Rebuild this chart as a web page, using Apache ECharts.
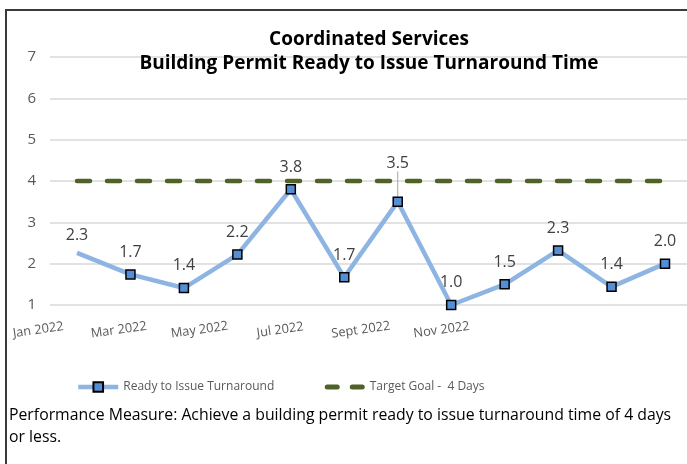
<!DOCTYPE html>
<html>
<head>
<meta charset="utf-8">
<script src="https://cdn.jsdelivr.net/npm/echarts@6/dist/echarts.min.js"></script>
<style>
  html, body { margin: 0; padding: 0; background: #fff; }
  #main { width: 687px; height: 464px; }
</style>
</head>
<body>
<div id="main"></div>
<script>
var myChart = echarts.init(document.getElementById('main'));

var months = ['Jan 2022', 'Feb 2022', 'Mar 2022', 'Apr 2022', 'May 2022', 'Jun 2022',
    'Jul 2022', 'Aug 2022', 'Sept 2022', 'Oct 2022', 'Nov 2022', 'Dec 2022'];
var turnaround = [2.26, 1.74, 1.41, 2.22, 3.8, 1.67, 3.5, 1.0, 1.5, 2.32, 1.44, 2.0];
var targetGoal = [4, 4, 4, 4, 4, 4, 4, 4, 4, 4, 4, 4];
var yTicks = [1, 7, 1]; // min, max, interval

var font = '"Open Sans", "Noto Sans", sans-serif';

// Jan has no marker, Jul label sits above the goal line with a leader
var turnData = turnaround.map(function (v, i) {
    if (i === 0) return { value: v, symbolSize: 0 };
    if (i === 6) return { value: v, labelLine: { show: true } };
    return v;
});

option = {
    backgroundColor: '#fff',
    textStyle: { fontFamily: font },
    title: {
        text: 'Coordinated Services\nBuilding Permit Ready to Issue Turnaround Time',
        left: 364,
        textAlign: 'center',
        top: 23,
        textStyle: {
            fontSize: 19,
            fontWeight: 'bold',
            color: '#000',
            lineHeight: 24,
            fontFamily: font
        }
    },
    graphic: [{
        type: 'polyline',
        shape: { points: [[6, 470], [6, 10], [700, 10]] },
        style: { fill: null, stroke: '#3a3a3a', lineWidth: 2 },
        silent: true
    }, {
        type: 'text',
        left: 9,
        top: 404,
        style: {
            text: 'Performance Measure: Achieve a building permit ready to issue turnaround time of 4 days\nor less.',
            font: '15.8px ' + font,
            fill: '#000',
            lineHeight: 22
        }
    }],
    legend: {
        left: 71,
        top: 376,
        itemWidth: 40,
        itemHeight: 12,
        itemGap: 48,
        textStyle: { fontSize: 12, color: '#595959', fontFamily: font },
        data: [{
            name: 'Ready to Issue Turnaround',
            lineStyle: { width: 4.5 }
        }, {
            name: 'Target Goal -  4 Days',
            itemStyle: { opacity: 0 },
            lineStyle: { type: [10, 15], width: 5, cap: 'round', dashOffset: 22.5 }
        }]
    },
    grid: [{
        // data area: category centres from Jan to Dec
        left: 77, width: 588, top: 57, bottom: 159
    }, {
        // month labels
        left: 18, width: 484, top: 57, bottom: 159
    }, {
        // value axis + gridlines
        left: 50, right: 0, top: 57, bottom: 159
    }],
    xAxis: [{
        type: 'category',
        data: months,
        boundaryGap: false,
        axisLine: { show: false },
        axisTick: { show: false },
        axisLabel: { show: false }
    }, {
        type: 'category',
        gridIndex: 1,
        data: months,
        boundaryGap: true,
        axisLine: { show: false },
        axisTick: { show: false },
        axisLabel: {
            interval: 1,
            rotate: 8,
            align: 'center',
            verticalAlign: 'middle',
            margin: 25,
            fontSize: 12.8,
            color: '#595959',
            fontFamily: font
        }
    }, {
        type: 'category',
        gridIndex: 2,
        data: months,
        show: false
    }],
    yAxis: [{
        type: 'value',
        min: yTicks[0],
        max: yTicks[1],
        show: false,
        splitLine: { show: false }
    }, {
        type: 'value',
        gridIndex: 1,
        min: yTicks[0],
        max: yTicks[1],
        show: false,
        splitLine: { show: false }
    }, {
        type: 'value',
        gridIndex: 2,
        min: yTicks[0],
        max: yTicks[1],
        interval: yTicks[2],
        axisLine: { show: false },
        axisTick: { show: false },
        axisLabel: { fontSize: 15, color: '#595959', margin: 14, fontFamily: font },
        splitLine: { lineStyle: { color: '#d9d9d9', width: 1.5 } }
    }],
    series: [{
        name: 'Target Goal -  4 Days',
        type: 'line',
        data: targetGoal,
        symbol: 'none',
        z: 2,
        itemStyle: { color: '#4f6228' },
        lineStyle: { color: '#4f6228', width: 4.5, type: [13, 17], cap: 'round' }
    }, {
        name: 'Ready to Issue Turnaround',
        type: 'line',
        data: turnData,
        symbol: 'rect',
        symbolSize: 9,
        z: 3,
        itemStyle: { color: '#558ed5', borderColor: '#000', borderWidth: 1.5 },
        lineStyle: { color: '#8db4e2', width: 4.5 },
        label: {
            show: true,
            position: 'top',
            distance: 9,
            fontSize: 16,
            color: '#404040',
            fontFamily: font,
            formatter: function (p) { return p.value.toFixed(1); }
        },
        labelLine: { show: false, lineStyle: { color: '#a6a6a6', width: 1 } },
        labelLayout: function (p) {
            if (p.dataIndex === 6) return { dy: -16 };
        }
    }]
};

myChart.setOption(option);
</script>
</body>
</html>
